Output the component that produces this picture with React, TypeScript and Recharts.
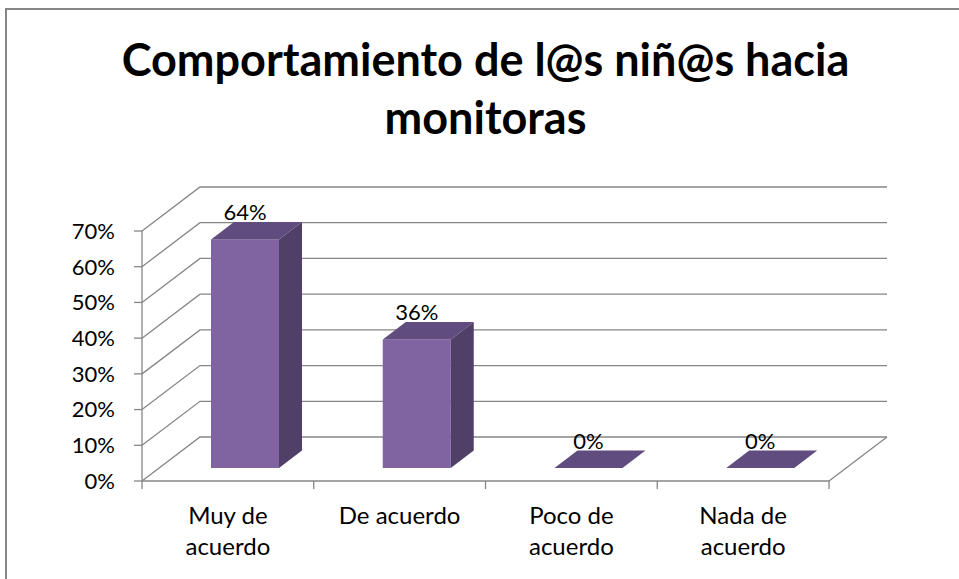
import { BarChart, Bar, XAxis, YAxis, CartesianGrid, LabelList } from "recharts";

const categories = ["Muy de acuerdo", "De acuerdo", "Poco de acuerdo", "Nada de acuerdo"];
const percentages = [64, 36, 0, 0];
const yTicks = [0, 10, 20, 30, 40, 50, 60, 70];
const titleLines = ["Comportamiento de l@s niñ@s hacia", "monitoras"];

const data = categories.map((name, i) => ({ name, value: percentages[i] }));

// layout of the front plane and the fake 3D depth
const W = 959;
const H = 579;
const PLOT_LEFT = 142;
const PLOT_RIGHT = 829;
const PLOT_TOP = 231;
const PLOT_BOTTOM = 481;
const WALL_DX = 58;
const WALL_DY = 44;
const BAR_SHIFT_X = 17;
const BAR_SHIFT_Y = 13;
const BAR_DX = 23;
const BAR_DY = 17.5;

const GRID = "#868686";
const FONT = "Lato, 'Open Sans', sans-serif";
const FRONT = "#8064A2";
const TOP = "#604C7E";
const SIDE = "#504068";

function WallLine(p: any) {
  const { x1, x2, y1, index } = p;
  const isFloor = Math.abs(y1 - PLOT_BOTTOM) < 1;
  return (
    <g key={`wall-${index}`}>
      <polyline
        points={`${x1},${y1} ${x1 + WALL_DX},${y1 - WALL_DY} ${x2 + WALL_DX},${y1 - WALL_DY}`}
        fill="none"
        stroke={GRID}
        strokeWidth={1.3}
      />
      {isFloor && (
        <line x1={x2} y1={y1} x2={x2 + WALL_DX} y2={y1 - WALL_DY} stroke={GRID} strokeWidth={1.3} />
      )}
    </g>
  );
}

function Box3D(props: any) {
  const { x, y, width, height } = props;
  const fx = x + BAR_SHIFT_X;
  const top = y - BAR_SHIFT_Y;
  const bottom = y + height - BAR_SHIFT_Y;
  const r = fx + width;
  return (
    <g>
      {height > 0 && <rect x={fx} y={top} width={width} height={height} fill={FRONT} />}
      <polygon
        points={`${r},${top} ${r + BAR_DX},${top - BAR_DY} ${r + BAR_DX},${bottom - BAR_DY} ${r},${bottom}`}
        fill={SIDE}
      />
      <polygon
        points={`${fx},${top} ${r},${top} ${r + BAR_DX},${top - BAR_DY} ${fx + BAR_DX},${top - BAR_DY}`}
        fill={TOP}
      />
    </g>
  );
}

function TopLabel(props: any) {
  const { x, y, width, value } = props;
  return (
    <text
      x={x + width / 2 + BAR_SHIFT_X}
      y={y - BAR_SHIFT_Y - BAR_DY - 2}
      textAnchor="middle"
      fontFamily={FONT}
      fontSize={22}
      fill="#000"
    >
      {`${value}%`}
    </text>
  );
}

function CategoryTick(props: any) {
  const { x, payload, index } = props;
  const band = (PLOT_RIGHT - PLOT_LEFT) / categories.length;
  const words = String(payload.value).split(" ");
  const lines =
    words.length > 2 ? [words.slice(0, 2).join(" "), words.slice(2).join(" ")] : [words.join(" ")];
  return (
    <g>
      <line x1={x - band / 2} y1={PLOT_BOTTOM} x2={x - band / 2} y2={PLOT_BOTTOM + 8} stroke={GRID} strokeWidth={1.3} />
      {index === categories.length - 1 && (
        <line x1={x + band / 2} y1={PLOT_BOTTOM} x2={x + band / 2} y2={PLOT_BOTTOM + 8} stroke={GRID} strokeWidth={1.3} />
      )}
      <text textAnchor="middle" fontFamily={FONT} fontSize={24} fill="#000">
        {lines.map((l, i) => (
          <tspan key={i} x={x} y={PLOT_BOTTOM + 43 + i * 31}>
            {l}
          </tspan>
        ))}
      </text>
    </g>
  );
}

export default function App() {
  return (
    <div style={{ position: "absolute", left: 0, top: 0, width: W, height: H, overflow: "hidden", background: "#fff" }}>
      <div
        style={{
          position: "absolute",
          left: 5,
          top: 8,
          width: W,
          height: H,
          borderLeft: `2px solid ${GRID}`,
          borderTop: `2px solid ${GRID}`,
        }}
      />
      <svg width={W} height={160} style={{ position: "absolute", left: 0, top: 0 }}>
        {titleLines.map((t, i) => (
          <text
            key={i}
            x={485.5}
            y={76 + i * 58}
            textAnchor="middle"
            fontFamily={FONT}
            fontWeight="bold"
            fontSize={45}
            fill="#000"
          >
            {t}
          </text>
        ))}
      </svg>
      <div style={{ position: "absolute", left: 0, top: 0 }}>
        <BarChart
          width={W}
          height={H}
          data={data}
          barSize={68}
          margin={{ top: PLOT_TOP, right: W - PLOT_RIGHT, left: PLOT_LEFT - 80, bottom: H - PLOT_BOTTOM - 80 }}
        >
          <CartesianGrid vertical={false} horizontal={WallLine} />
          <XAxis
            dataKey="name"
            height={80}
            tickLine={false}
            axisLine={{ stroke: GRID, strokeWidth: 1.3 }}
            tick={<CategoryTick />}
            interval={0}
          />
          <YAxis
            width={80}
            domain={[0, 70]}
            ticks={yTicks}
            tickFormatter={(v) => `${v}%`}
            tickSize={8}
            tickMargin={19}
            axisLine={{ stroke: GRID, strokeWidth: 1.3 }}
            tickLine={{ stroke: GRID, strokeWidth: 1.3 }}
            tick={{ fill: "#000", fontSize: 22, fontFamily: FONT }}
          />
          <Bar dataKey="value" shape={<Box3D />} isAnimationActive={false}>
            <LabelList dataKey="value" content={<TopLabel />} />
          </Bar>
        </BarChart>
      </div>
    </div>
  );
}
